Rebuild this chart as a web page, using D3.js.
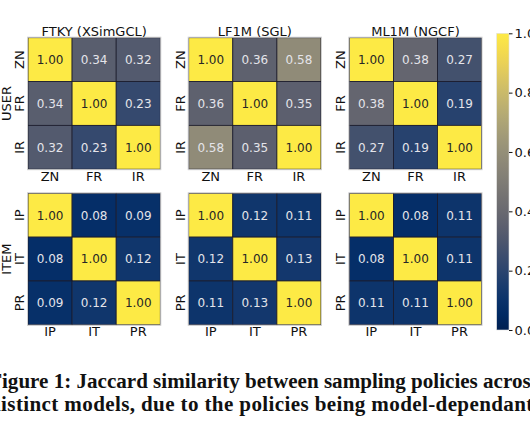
<!DOCTYPE html>
<html><head><meta charset="utf-8">
<script src="https://cdn.jsdelivr.net/npm/d3@7"></script>
<style>html,body{margin:0;padding:0;background:#fff;overflow:hidden}</style>
</head><body>
<svg id="chart" width="530" height="442"></svg>
<script>
const titles = ["FTKY (XSimGCL)", "LF1M (SGL)", "ML1M (NGCF)"];
const rowNames = ["USER", "ITEM"];
const userLabels = ["ZN", "FR", "IR"];
const itemLabels = ["IP", "IT", "PR"];
const userFTKY = [[1.00, 0.34, 0.32], [0.34, 1.00, 0.23], [0.32, 0.23, 1.00]];
const userLF1M = [[1.00, 0.36, 0.58], [0.36, 1.00, 0.35], [0.58, 0.35, 1.00]];
const userML1M = [[1.00, 0.38, 0.27], [0.38, 1.00, 0.19], [0.27, 0.19, 1.00]];
const itemFTKY = [[1.00, 0.08, 0.09], [0.08, 1.00, 0.12], [0.09, 0.12, 1.00]];
const itemLF1M = [[1.00, 0.12, 0.11], [0.12, 1.00, 0.13], [0.11, 0.13, 1.00]];
const itemML1M = [[1.00, 0.08, 0.11], [0.08, 1.00, 0.11], [0.11, 0.11, 1.00]];
const colorTicks = [0.0, 0.2, 0.4, 0.6, 0.8, 1.0];
const captionLines = [
  "Figure 1: Jaccard similarity between sampling policies across",
  "distinct models, due to the policies being model-dependant."
];

const grid = [
  [userFTKY, userLF1M, userML1M],
  [itemFTKY, itemLF1M, itemML1M]
];
const rowLabels = [userLabels, itemLabels];

const svg = d3.select("#chart");
const font = "DejaVu Sans, sans-serif";
const color = d3.scaleSequential(d3.interpolateCividis).domain([0, 1]);

// panel layout
const panelX = [28, 188.7, 349.3];
const panelY = [37.7, 193.3];
const pw = 132.3, ph = 131.5;

grid.forEach((row, ri) => {
  const labels = rowLabels[ri];
  row.forEach((mat, ci) => {
    const g = svg.append("g").attr("transform", `translate(${panelX[ci]},${panelY[ri]})`);
    const x = d3.scaleBand().domain(labels).range([0, pw]);
    const y = d3.scaleBand().domain(labels).range([0, ph]);
    const cells = [];
    mat.forEach((r, i) => r.forEach((v, j) => cells.push({r: labels[i], c: labels[j], v})));
    g.selectAll("rect.cell").data(cells).join("rect")
      .attr("class", "cell")
      .attr("x", d => x(d.c)).attr("y", d => y(d.r))
      .attr("width", x.bandwidth()).attr("height", y.bandwidth())
      .attr("fill", d => color(d.v))
      .attr("stroke", "#1a1a2a").attr("stroke-width", 0.8);
    g.append("rect").attr("x", -0.5).attr("y", -0.5).attr("width", pw + 1).attr("height", ph + 1)
      .attr("fill", "none").attr("stroke", "#d0d0d0").attr("stroke-width", 1);
    g.selectAll("text.val").data(cells).join("text")
      .attr("class", "val")
      .attr("x", d => x(d.c) + x.bandwidth() / 2)
      .attr("y", d => y(d.r) + y.bandwidth() / 2)
      .attr("dy", "0.36em")
      .attr("text-anchor", "middle")
      .attr("font-family", font).attr("font-size", 12)
      .attr("fill", d => d.v > 0.7 ? "#262626" : "#e4e4ea")
      .text(d => d3.format(".2f")(d.v));
    // x tick labels
    g.selectAll("text.xt").data(labels).join("text")
      .attr("class", "xt")
      .attr("x", d => x(d) + x.bandwidth() / 2)
      .attr("y", ph + 11.5)
      .attr("text-anchor", "middle")
      .attr("font-family", font).attr("font-size", 13).attr("fill", "#111")
      .text(d => d);
    // y tick labels (rotated)
    g.selectAll("text.yt").data(labels).join("text")
      .attr("class", "yt")
      .attr("transform", d => `translate(-4,${y(d) + y.bandwidth() / 2}) rotate(-90)`)
      .attr("text-anchor", "middle")
      .attr("font-family", font).attr("font-size", 13).attr("fill", "#111")
      .text(d => d);
    if (ri === 0) {
      g.append("text").attr("x", pw / 2).attr("y", -2)
        .attr("text-anchor", "middle")
        .attr("font-family", font).attr("font-size", 13).attr("fill", "#111")
        .text(titles[ci]);
    }
    if (ci === 0) {
      g.append("text")
        .attr("transform", `translate(-17.5,${ph / 2}) rotate(-90)`)
        .attr("text-anchor", "middle")
        .attr("font-family", font).attr("font-size", 13).attr("fill", "#111")
        .text(rowNames[ri]);
    }
  });
});

// colorbar
const cbX = 496.7, cbW = 12.3, cbTop = 33.3, cbBot = 330;
const cy = d3.scaleLinear().domain([0, 1]).range([cbBot, cbTop]);
const defs = svg.append("defs");
const grad = defs.append("linearGradient").attr("id", "cbg")
  .attr("x1", 0).attr("y1", 1).attr("x2", 0).attr("y2", 0);
d3.range(0, 1.0001, 0.05).forEach(t => grad.append("stop").attr("offset", t).attr("stop-color", color(t)));
svg.append("rect").attr("x", cbX).attr("y", cbTop).attr("width", cbW).attr("height", cbBot - cbTop)
  .attr("fill", "url(#cbg)").attr("stroke", "#e0e0e0").attr("stroke-width", 0.6);
const axis = d3.axisRight(cy).tickValues(colorTicks).tickFormat(d3.format(".1f")).tickSize(3.5).tickPadding(2);
const ag = svg.append("g").attr("transform", `translate(${cbX + cbW},0)`).call(axis);
ag.select(".domain").remove();
ag.selectAll("text").attr("font-family", font).attr("font-size", 13).attr("fill", "#111");
ag.selectAll("line").attr("stroke", "#111");

// caption (justified lines about 550px wide, overflowing the frame as in the reference)
const capTarget = 550;
const cap = svg.selectAll("text.cap").data(captionLines).join("text")
  .attr("class", "cap")
  .attr("x", 264).attr("y", (d, i) => 388 + i * 23)
  .attr("text-anchor", "middle")
  .attr("font-family", "Liberation Serif, serif").attr("font-weight", "bold").attr("font-size", 20)
  .attr("fill", "#111")
  .text(d => d);
const w0 = cap.nodes()[0].getComputedTextLength();
const fs = 20 * capTarget / w0;
cap.attr("font-size", fs);
cap.each(function () {
  const w = this.getComputedTextLength();
  if (Math.abs(w - capTarget) > 2) {
    d3.select(this).attr("textLength", capTarget).attr("lengthAdjust", "spacing");
  }
});
</script>
</body></html>
